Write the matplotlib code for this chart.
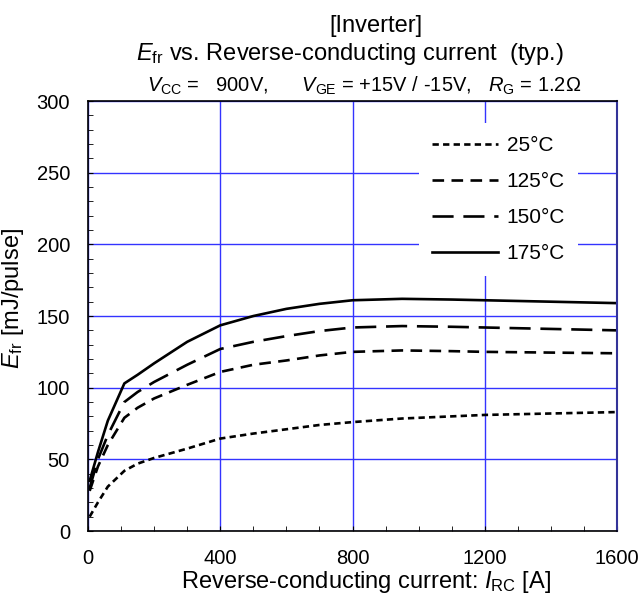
import matplotlib.pyplot as plt
from matplotlib.ticker import MultipleLocator

plt.rcParams['font.family'] = ['Liberation Sans', 'DejaVu Sans']
plt.rcParams['mathtext.fontset'] = 'custom'
plt.rcParams['mathtext.rm'] = 'Liberation Sans'
plt.rcParams['mathtext.it'] = 'Liberation Sans:italic'

# Efr vs reverse-conducting current
i_rc = [5, 30, 60, 110, 150, 200, 300, 400, 500, 600, 700, 800, 950, 1100, 1200, 1400, 1600]
efr_25 = [10, 20, 31, 42, 47, 51, 57.5, 64.5, 68, 71, 74, 76, 78.5, 80, 81, 82, 83]
efr_125 = [28, 45, 60, 79, 86, 92.5, 102, 111, 116, 119, 122.5, 125, 126, 125.5, 125, 124.5, 124]
efr_150 = [30, 50, 67, 90, 97, 104, 116, 127, 132, 136, 139.5, 142, 143, 142.5, 142, 141, 140]
efr_175 = [35, 55, 77, 103, 109, 117, 132, 143.5, 150, 155, 158.5, 161, 162, 161.5, 161, 160, 159]

temps = ['25°C', '125°C', '150°C', '175°C']
dashes = [(2.4, 1.6), (4.4, 2.8), (8, 3.7), None]

fig = plt.figure(figsize=(6.4, 5.96), dpi=100)
ax = fig.add_axes([0.1375, 0.109, 0.8266, 0.7215])

for curve, lab, d in zip([efr_25, efr_125, efr_150, efr_175], temps, dashes):
    line, = ax.plot(i_rc, curve, color='black', lw=1.9, label=lab)
    if d is not None:
        line.set_dashes(d)

ax.set_xlim(0, 1600)
ax.set_ylim(0, 300)
ax.xaxis.set_major_locator(MultipleLocator(400))
ax.xaxis.set_minor_locator(MultipleLocator(100))
ax.yaxis.set_major_locator(MultipleLocator(50))
ax.yaxis.set_minor_locator(MultipleLocator(10))
ax.tick_params(which='both', direction='in', labelsize=14.5, top=False, right=False,
               length=3.6, pad=13)
ax.grid(True, which='major', color='#3333ff', lw=1.0)
ax.spines['right'].set_color('#333399')
ax.spines['right'].set_linewidth(1.5)
for s in ['left', 'bottom', 'top']:
    ax.spines[s].set_linewidth(1.2)

ax.set_xlabel(r'Reverse-conducting current: $\mathit{I}_{\mathrm{RC}}$ [A]', fontsize=17)
ax.set_ylabel(r'$\mathit{E}_{\mathrm{fr}}$ [mJ/pulse]', fontsize=17)
ax.xaxis.set_label_coords(0.526, -0.088)
ax.yaxis.set_label_coords(-0.118, 0.54)

leg = ax.legend(loc='upper right', bbox_to_anchor=(0.945, 0.972), fontsize=15,
                frameon=True, framealpha=1, edgecolor='none', facecolor='white',
                handlelength=3.2, labelspacing=0.82, handletextpad=0.4, borderpad=0.6)

fig.text(0.588, 0.946, '[Inverter]', ha='center', va='baseline', fontsize=17)
fig.text(0.547, 0.899, r'$\mathit{E}_{\mathrm{fr}}$ vs. Reverse-conducting current  (typ.)',
         ha='center', va='baseline', fontsize=17)
fig.text(0.569, 0.846, r'$\mathit{V}_{\mathrm{CC}}$ =   900V,      $\mathit{V}_{\mathrm{GE}}$ = +15V / -15V,   $\mathit{R}_{\mathrm{G}}$ = 1.2Ω',
         ha='center', va='baseline', fontsize=14.5)

fig.savefig('out.png', dpi=100)
